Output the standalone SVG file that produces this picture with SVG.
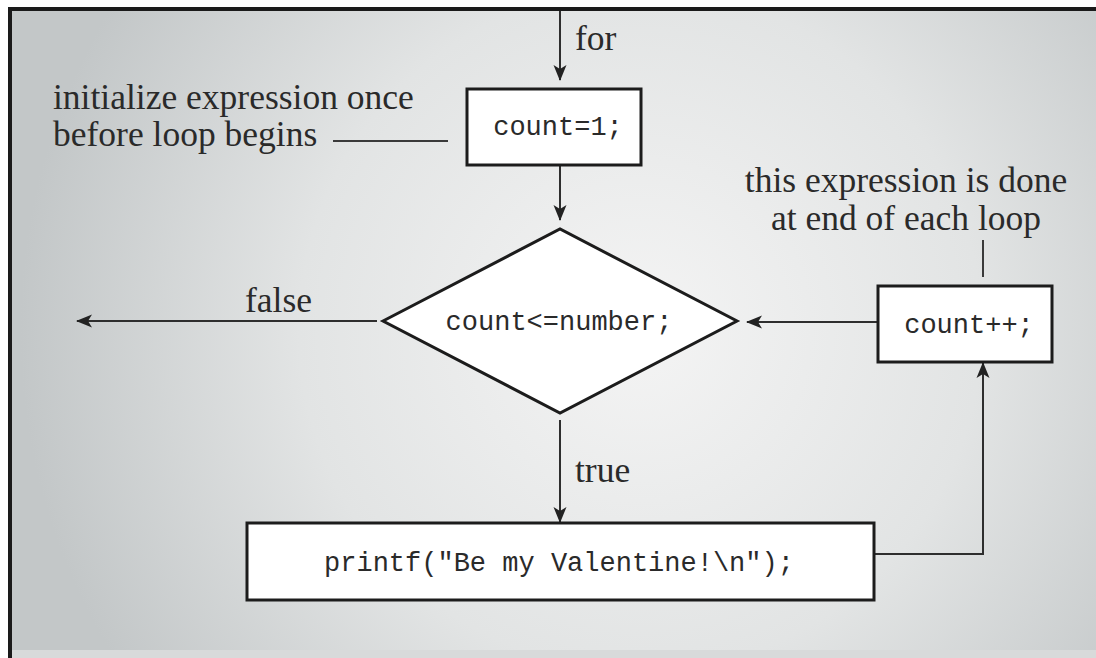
<svg xmlns="http://www.w3.org/2000/svg" width="1096" height="658" viewBox="0 0 1096 658">
  <defs>
    <radialGradient id="bg" cx="640" cy="330" r="620" gradientUnits="userSpaceOnUse">
      <stop offset="0" stop-color="#f4f4f4"/>
      <stop offset="0.55" stop-color="#e2e4e4"/>
      <stop offset="1" stop-color="#c3c7c8"/>
    </radialGradient>
    <marker id="arrow" markerUnits="userSpaceOnUse" markerWidth="16" markerHeight="16" refX="15" refY="8" orient="auto">
      <path d="M0,1.5 L16,8 L0,14.5 L4,8 z" fill="#222"/>
    </marker>
    <style>
      .lbl { font-family: "Liberation Serif", "Times New Roman", serif; font-size: 35.5px; fill: #2a2a2a; }
      .code { font-family: "Liberation Mono", "Courier New", monospace; font-size: 27px; fill: #2a2a2a; text-anchor: middle; }
      .box { fill: #ffffff; stroke: #1c1c1c; stroke-width: 3; }
      .conn { fill: none; stroke: #2e2e2e; stroke-width: 2; }
      .note { fill: none; stroke: #3a3a3a; stroke-width: 2; }
    </style>
  </defs>

  <!-- background and frame -->
  <rect x="0" y="0" width="1096" height="658" fill="#ffffff"/>
  <rect x="8" y="7" width="1088" height="651" fill="url(#bg)"/>
  <rect x="12" y="650" width="1084" height="8" fill="#d8dada"/>
  <rect x="8" y="7" width="1088" height="4" fill="#1a1a1a"/>
  <rect x="8" y="7" width="4" height="651" fill="#1a1a1a"/>

  <!-- connectors -->
  <g id="connectors">
    <path class="conn" d="M560,11 V80" marker-end="url(#arrow)"/>
    <path class="conn" d="M560,165 V220" marker-end="url(#arrow)"/>
    <path class="conn" d="M377,321 H77" marker-end="url(#arrow)"/>
    <path class="conn" d="M560,420 V522" marker-end="url(#arrow)"/>
    <path class="conn" d="M874,554 H983 V363" marker-end="url(#arrow)"/>
    <path class="conn" d="M878,322 H747" marker-end="url(#arrow)"/>
    <path class="note" d="M333,141 H448"/>
    <path class="note" d="M983,240 V277"/>
  </g>

  <!-- edge labels -->
  <text class="lbl" x="575" y="50">for</text>
  <text class="lbl" x="245" y="312">false</text>
  <text class="lbl" x="575" y="482">true</text>

  <!-- annotations -->
  <g id="note-init">
    <text class="lbl" x="53" y="109">initialize expression once</text>
    <text class="lbl" x="53" y="146">before loop begins</text>
  </g>
  <g id="note-incr">
    <text class="lbl" x="906" y="192" text-anchor="middle">this expression is done</text>
    <text class="lbl" x="906" y="230" text-anchor="middle">at end of each loop</text>
  </g>

  <!-- nodes -->
  <g id="init">
    <rect class="box" x="467" y="89" width="174" height="76"/>
    <text class="code" x="558" y="135">count=1;</text>
  </g>
  <g id="test">
    <polygon class="box" points="383,321 560,229 737,321 560,413"/>
    <text class="code" x="559" y="330">count&lt;=number;</text>
  </g>
  <g id="incr">
    <rect class="box" x="878" y="286" width="174" height="76"/>
    <text class="code" x="969" y="333">count++;</text>
  </g>
  <g id="body">
    <rect class="box" x="247" y="523" width="627" height="77"/>
    <text class="code" x="559" y="571">printf("Be my Valentine!\n");</text>
  </g>
</svg>
